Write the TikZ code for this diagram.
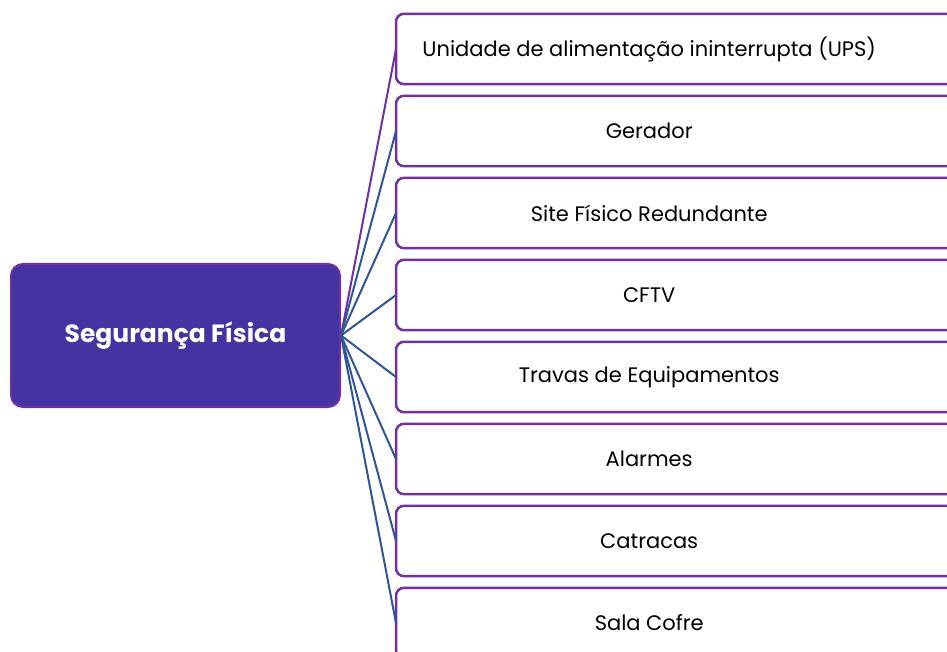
\documentclass[tikz,border=0pt]{standalone}
\usepackage{fontspec}
\setmainfont{Poppins}
\usetikzlibrary{positioning}
\definecolor{boxpurple}{RGB}{112,48,160}
\definecolor{hubfill}{RGB}{68,51,160}
\definecolor{linkblue}{RGB}{47,85,151}
\tikzset{
    x=1pt, y=-1pt,
    node distance=11.6pt, % gap between the stacked boxes
    hub/.style={draw=boxpurple, line width=2pt, fill=hubfill, rounded corners=12pt,
        minimum width=329pt, minimum height=143pt, text=white,
        font=\fontsize{25}{30}\selectfont\bfseries},
    item/.style={minimum width=506pt, minimum height=70pt, inner sep=0pt,
        font=\fontsize{21}{25}\selectfont},
    frame/.style={draw=boxpurple, line width=2.5pt, rounded corners=8pt},
    link/.style={draw=linkblue, line width=2pt},
}
\begin{document}
\begin{tikzpicture}
    \useasboundingbox (0,0) rectangle (947,652);
    \clip (0,0) rectangle (947,652);

    \node[hub] (seg) at (175.5,335.5) {Segurança Física};

    \node[item, anchor=west] (ups) at (396,49) {Unidade de alimentação ininterrupta (UPS)};
    \node[item, below=of ups] (ger) {Gerador};
    \node[item, below=of ger] (site) {Site Físico Redundante};
    \node[item, below=of site] (cftv) {CFTV};
    \node[item, below=of cftv] (trav) {Travas de Equipamentos};
    \node[item, below=of trav] (alar) {Alarmes};
    \node[item, below=of alar] (catr) {Catracas};
    \node[item, below=of catr] (sala) {Sala Cofre};

    % boxes run off the right edge
    \foreach \b in {ups,ger,site,cftv,trav,alar,catr,sala}
        \draw[frame] (\b.north west) rectangle ([xshift=80pt]\b.south east);

    \draw[link, draw=boxpurple] (seg.east) -- (ups.west);
    \foreach \b in {ger,site,cftv,trav,alar,catr,sala}
        \draw[link] (seg.east) -- (\b.west);
\end{tikzpicture}
\end{document}
